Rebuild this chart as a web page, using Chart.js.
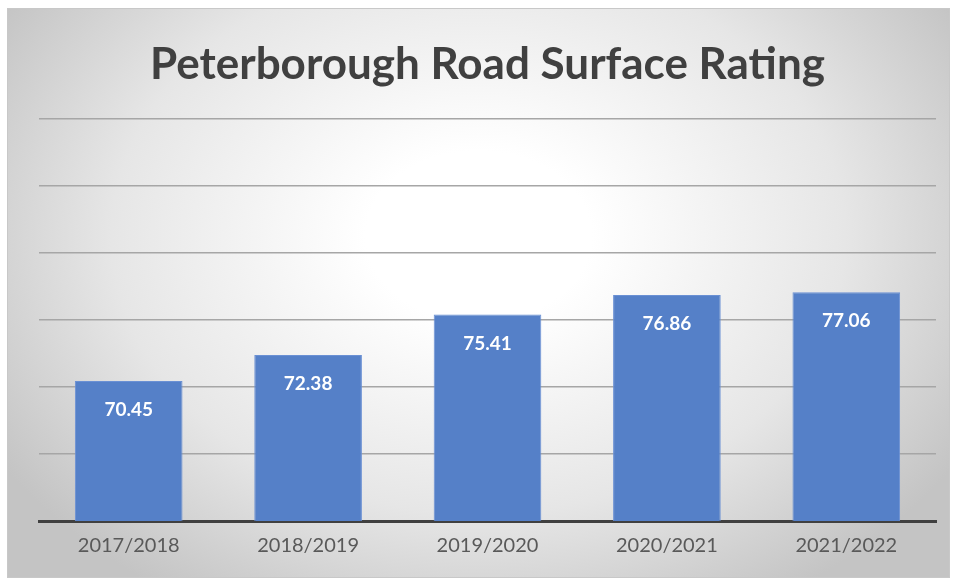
<!DOCTYPE html>
<html>
<head>
<meta charset="utf-8">
<script src="https://cdn.jsdelivr.net/npm/chart.js@4"></script>
<style>
  html, body { margin: 0; padding: 0; background: #fff; }
  #frame {
    position: absolute; left: 7px; top: 8px; width: 943px; height: 570px;
    border: 1px solid #c8c8c8; box-sizing: border-box;
    background: radial-gradient(ellipse 60% 75% at 50% 40%, #ffffff 20%, #e6e6e6 65%, #c4c4c4 100%);
  }
</style>
</head>
<body>
<div id="frame"><canvas id="chart"></canvas></div>
<script>
const titleText = "Peterborough Road Surface Rating";
const seasons = ["2017/2018", "2018/2019", "2019/2020", "2020/2021", "2021/2022"];
const ratings = [70.45, 72.38, 75.41, 76.86, 77.06];
const axisMin = 60;
const axisMax = 90;
const axisStep = 5;

// white value labels just under the top of each bar
const valueLabels = {
  id: "valueLabels",
  afterDatasetsDraw(chart) {
    const c = chart.ctx;
    const meta = chart.getDatasetMeta(0);
    c.save();
    c.fillStyle = "#ffffff";
    c.font = "bold 19px Lato";
    c.textAlign = "center";
    c.textBaseline = "middle";
    meta.data.forEach((bar, i) => {
      c.fillText(ratings[i].toFixed(2), bar.x, bar.y + 29);
    });
    c.restore();
  }
};

const ctx = document.getElementById("chart").getContext("2d");
new Chart(ctx, {
  type: "bar",
  data: {
    labels: seasons,
    datasets: [{
      data: ratings,
      backgroundColor: "#5580c8",
      borderColor: "#6a90d4",
      borderWidth: 1,
      categoryPercentage: 0.6,
      barPercentage: 1.0
    }]
  },
  options: {
    responsive: true,
    maintainAspectRatio: false,
    animation: false,
    layout: { padding: { left: 31, right: 13, top: 0, bottom: 6 } },
    plugins: {
      legend: { display: false },
      tooltip: { enabled: false },
      title: {
        display: true,
        text: titleText,
        color: "#404040",
        font: { family: "Lato", size: 44, weight: "bold" },
        padding: { top: 29, bottom: 28 }
      }
    },
    scales: {
      x: {
        grid: { display: false, drawTicks: false },
        border: { display: true, color: "#404040", width: 3 },
        ticks: { color: "#595959", font: { family: "Lato", size: 20 }, padding: 13 }
      },
      y: {
        min: axisMin,
        max: axisMax,
        ticks: { display: false, stepSize: axisStep },
        grid: { color: "#a6a6a6", lineWidth: 1.5, drawTicks: false },
        border: { display: false }
      }
    }
  },
  plugins: [valueLabels]
});
</script>
</body>
</html>
